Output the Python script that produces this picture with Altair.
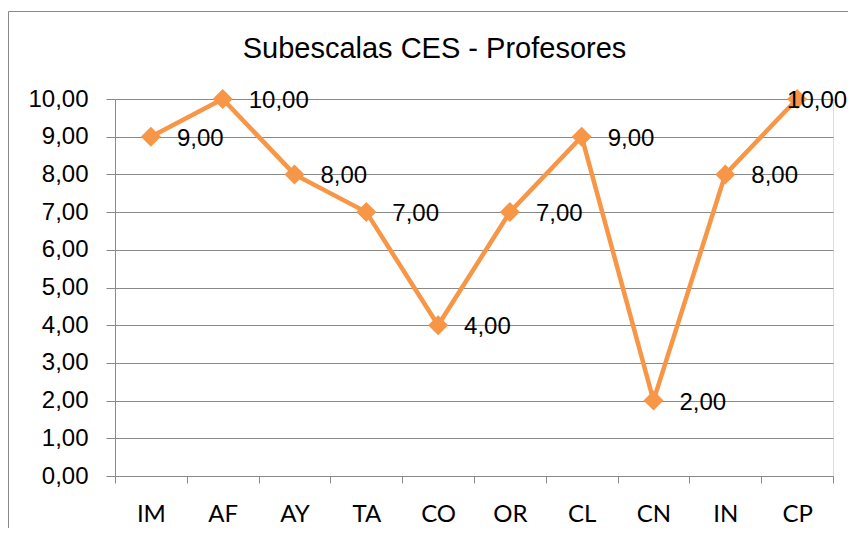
import altair as alt
import pandas as pd

categories = ["IM", "AF", "AY", "TA", "CO", "OR", "CL", "CN", "IN", "CP"]
values = [9, 10, 8, 7, 4, 7, 9, 2, 8, 10]
y_ticks = [0, 1, 2, 3, 4, 5, 6, 7, 8, 9, 10]
title_text = "Subescalas CES - Profesores"

df = pd.DataFrame({"cat": categories, "val": values})
df["label"] = [f"{v:.2f}".replace(".", ",") for v in values]

ORANGE = "#F79646"
GRAY = "#898989"

x = alt.X(
    "cat:N",
    sort=categories,
    bandPosition=0.5,
    scale=alt.Scale(type="band", paddingInner=0, paddingOuter=0),
    axis=alt.Axis(
        title=None, labelAngle=0, tickBand="extent", tickSize=7, labelPadding=19,
        labelFont="Lato", labelFontSize=24, labelColor="black",
        domainColor=GRAY, tickColor=GRAY, grid=False,
    ),
)
y = alt.Y(
    "val:Q",
    scale=alt.Scale(domain=[0, 10], nice=False),
    axis=alt.Axis(
        title=None, values=y_ticks,
        labelExpr="replace(format(datum.value, '.2f'), '.', ',')",
        tickSize=9, labelPadding=18, labelFont="Liberation Sans", labelFontSize=24,
        labelColor="black", gridColor=GRAY, domainColor=GRAY, tickColor=GRAY,
    ),
)

base = alt.Chart(df)
line = base.mark_line(color=ORANGE, strokeWidth=4.5).encode(x=x, y=y)
pts = base.mark_point(shape="diamond", filled=True, size=400, color=ORANGE, opacity=1).encode(x=x, y=y)
labels = base.transform_filter("datum.cat != 'CP'").mark_text(
    align="left", baseline="middle", dx=26, dy=2, font="Liberation Sans", fontSize=24, color="black"
).encode(x=x, y=y, text="label:N")
labels_last = base.transform_filter("datum.cat == 'CP'").mark_text(
    align="left", baseline="middle", dx=-10, dy=2, font="Liberation Sans", fontSize=24, color="black"
).encode(x=x, y=y, text="label:N")

frame_df = pd.DataFrame({"t": [title_text]})
left_border = alt.Chart(frame_df).mark_rule(color=GRAY, strokeWidth=1).encode(
    x=alt.value(-106.5), y=alt.value(-87.5), y2=alt.value(440)
)
top_border = alt.Chart(frame_df).mark_rule(color=GRAY, strokeWidth=1).encode(
    x=alt.value(-106.5), x2=alt.value(733), y=alt.value(-87.5)
)
title = alt.Chart(frame_df).mark_text(
    font="Liberation Sans", fontSize=29, color="black", align="center", baseline="alphabetic"
).encode(x=alt.value(319.5), y=alt.value(-41.5), text="t:N")

chart = alt.layer(left_border, top_border, title, line, pts, labels, labels_last).properties(
    width=718,
    height=377,
    autosize=alt.AutoSizeParams(type="none"),
    padding={"left": 107, "top": 91, "right": 15, "bottom": 52},
).configure_view(stroke=None).configure(background="white")

chart.save("out.html", embed_options={"renderer": "svg", "actions": False})
